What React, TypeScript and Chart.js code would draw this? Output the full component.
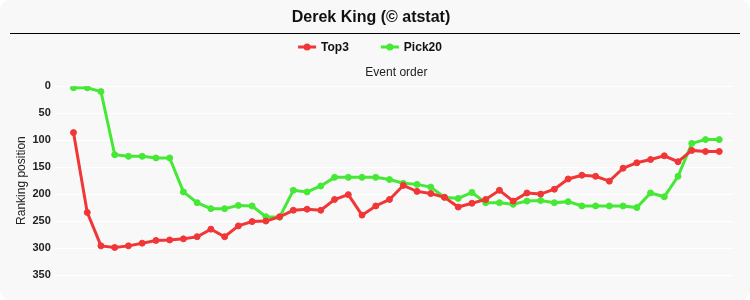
import React, { useEffect, useRef } from "react";
import { Chart, registerables } from "chart.js";

Chart.register(...registerables);

const titleText = "Derek King (© atstat)";
const events = [
  1, 2, 3, 4, 5, 6, 7, 8, 9, 10, 11, 12, 13, 14, 15, 16, 17, 18, 19, 20, 21, 22, 23, 24,
  25, 26, 27, 28, 29, 30, 31, 32, 33, 34, 35, 36, 37, 38, 39, 40, 41, 42, 43, 44, 45, 46, 47, 48,
];
const top3 = [
  86, 234, 296, 299, 296, 291, 286, 285, 283, 279, 265, 279, 259, 251, 250, 242, 230, 228,
  230, 210, 201, 239, 222, 210, 184, 195, 199, 206, 224, 217, 210, 193, 213, 198, 200, 191,
  172, 165, 167, 176, 152, 142, 136, 129, 140, 119, 121, 121,
];
const pick20 = [
  3, 3, 10, 127, 130, 130, 133, 133, 196, 216, 227, 227, 221, 222, 242, 243, 193, 196,
  185, 169, 169, 169, 169, 173, 180, 182, 187, 206, 208, 197, 216, 216, 219, 213, 212, 216,
  214, 222, 222, 222, 222, 225, 198, 205, 167, 106, 99, 99,
];
const yTicks = [0, 50, 100, 150, 200, 250, 300, 350];

const RED = "#f03636";
const GREEN = "#46e836";
const FONT = "'Liberation Sans', Arial, sans-serif";

const titleLine = {
  id: "titleLine",
  afterDraw(chart: any) {
    const ctx = chart.ctx;
    ctx.save();
    ctx.strokeStyle = "#000";
    ctx.lineWidth = 1;
    ctx.beginPath();
    ctx.moveTo(10, 33.5);
    ctx.lineTo(740, 33.5);
    ctx.stroke();
    ctx.restore();
  },
};

const customLegend = {
  id: "customLegend",
  afterDraw(chart: any) {
    const ctx = chart.ctx;
    const items = chart.data.datasets.map((ds: any) => ({ label: ds.label, color: ds.borderColor }));
    ctx.save();
    ctx.font = `bold 12px ${FONT}`;
    const iconW = 18;
    const iconGap = 5;
    const itemGap = 32;
    const widths = items.map((it: any) => iconW + iconGap + ctx.measureText(it.label).width);
    const total = widths.reduce((a: number, b: number) => a + b, 0) + itemGap * (items.length - 1);
    let x = 370 - total / 2;
    const y = 47;
    items.forEach((it: any, i: number) => {
      ctx.strokeStyle = it.color;
      ctx.fillStyle = it.color;
      ctx.lineWidth = 3;
      ctx.beginPath();
      ctx.moveTo(x, y);
      ctx.lineTo(x + iconW, y);
      ctx.stroke();
      ctx.beginPath();
      ctx.arc(x + iconW / 2, y, 3.5, 0, Math.PI * 2);
      ctx.fill();
      ctx.fillStyle = "#111";
      ctx.textBaseline = "middle";
      ctx.textAlign = "left";
      ctx.fillText(it.label, x + iconW + iconGap, y + 0.5);
      x += widths[i] + itemGap;
    });
    ctx.restore();
  },
};

export default function App() {
  const ref = useRef<HTMLCanvasElement | null>(null);
  useEffect(() => {
    document.body.style.margin = "0";
    const canvas = ref.current!;
    const chart = new Chart(canvas, {
      type: "line",
      data: {
        datasets: [
          {
            label: "Top3",
            data: events.map((e, i) => ({ x: e, y: top3[i] })),
            borderColor: RED,
            backgroundColor: RED,
            borderWidth: 3,
            pointRadius: 3,
            pointBorderWidth: 1,
            pointStyle: "circle",
            tension: 0,
          },
          {
            label: "Pick20",
            data: events.map((e, i) => ({ x: e, y: pick20[i] })),
            borderColor: GREEN,
            backgroundColor: GREEN,
            borderWidth: 3,
            pointRadius: 3,
            pointBorderWidth: 1,
            pointStyle: "circle",
            tension: 0,
          },
        ],
      },
      options: {
        animation: false,
        responsive: false,
        layout: { padding: { left: 9, right: 17, top: 0, bottom: 25 } },
        plugins: {
          title: {
            display: true,
            text: titleText,
            color: "#111",
            font: { family: FONT, size: 16, weight: "bold" },
            padding: { top: 8, bottom: 34.6 },
          },
          legend: { display: false },
          tooltip: { enabled: false },
        },
        scales: {
          x: {
            type: "linear",
            position: "top",
            min: 0,
            max: 49,
            grid: { display: false, drawTicks: false },
            border: { display: false },
            ticks: { display: false },
            title: {
              display: true,
              text: "Event order",
              color: "#222",
              font: { family: FONT, size: 12 },
              padding: { top: 4, bottom: 6 },
            },
          },
          y: {
            reverse: true,
            min: 0,
            max: 350,
            afterBuildTicks: (axis: any) => {
              axis.ticks = yTicks.map((v) => ({ value: v }));
            },
            grid: { color: "#ffffff", lineWidth: 1, tickLength: 5 },
            border: { display: false },
            ticks: {
              color: "#222",
              font: { family: FONT, size: 11, weight: "bold" },
              padding: 4,
            },
            title: {
              display: true,
              text: "Ranking position",
              color: "#222",
              font: { family: FONT, size: 12 },
              padding: { top: 5, bottom: 0 },
            },
          },
        },
      },
      plugins: [titleLine, customLegend],
    });
    return () => chart.destroy();
  }, []);
  return (
    <div
      style={{
        width: 750,
        height: 300,
        background: "#f8f8f8",
        borderRadius: 10,
        overflow: "hidden",
      }}
    >
      <canvas ref={ref} width={750} height={300} style={{ display: "block" }} />
    </div>
  );
}
